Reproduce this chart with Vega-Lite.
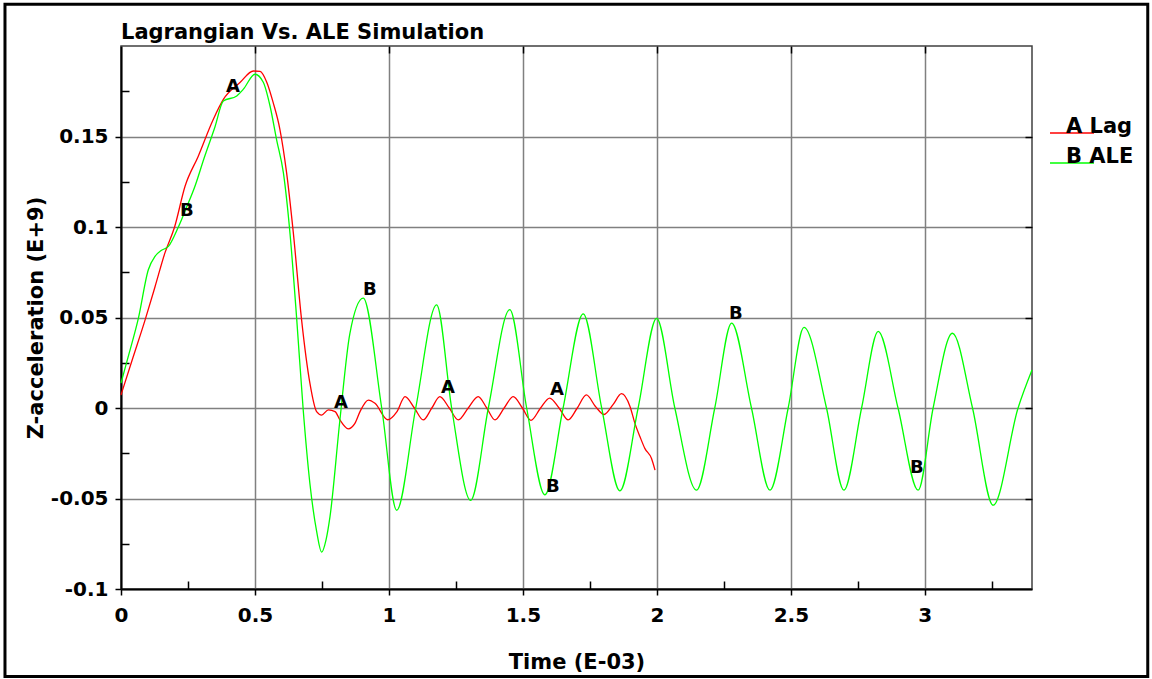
{
  "$schema": "https://vega.github.io/schema/vega-lite/v6.json",
  "width": 911,
  "height": 543,
  "autosize": {"type": "none"},
  "padding": {"left": 121, "top": 46, "right": 120, "bottom": 90},
  "background": "white",
  "config": {
    "font": "DejaVu Sans",
    "view": {"stroke": "#404040", "strokeWidth": 1.5},
    "axis": {
      "domainColor": "black",
      "domainWidth": 2,
      "tickColor": "black",
      "tickWidth": 1.5,
      "gridColor": "#808080",
      "gridWidth": 1.5,
      "labelFont": "DejaVu Sans",
      "labelFontSize": 20,
      "labelFontWeight": "bold",
      "labelColor": "black",
      "labelOverlap": false,
      "labelBound": false,
      "labelFlush": false,
      "titleFont": "DejaVu Sans",
      "titleFontSize": 21,
      "titleFontWeight": "bold",
      "titleColor": "black"
    }
  },
  "title": {
    "text": "Lagrangian Vs. ALE Simulation",
    "anchor": "start",
    "frame": "group",
    "font": "DejaVu Sans",
    "fontSize": 21,
    "fontWeight": "bold",
    "color": "black",
    "baseline": "alphabetic",
    "offset": -57
  },
  "datasets": {
    "curves": [
      {"series": "A Lag", "t": 0, "v": 0.0072},
      {"series": "A Lag", "t": 0.045, "v": 0.028},
      {"series": "A Lag", "t": 0.09, "v": 0.0487},
      {"series": "A Lag", "t": 0.127, "v": 0.067},
      {"series": "A Lag", "t": 0.164, "v": 0.0857},
      {"series": "A Lag", "t": 0.2, "v": 0.1},
      {"series": "A Lag", "t": 0.239, "v": 0.1225},
      {"series": "A Lag", "t": 0.288, "v": 0.139},
      {"series": "A Lag", "t": 0.343, "v": 0.159},
      {"series": "A Lag", "t": 0.382, "v": 0.1705},
      {"series": "A Lag", "t": 0.444, "v": 0.1798},
      {"series": "A Lag", "t": 0.494, "v": 0.1862},
      {"series": "A Lag", "t": 0.519, "v": 0.186},
      {"series": "A Lag", "t": 0.544, "v": 0.18},
      {"series": "A Lag", "t": 0.568, "v": 0.1687},
      {"series": "A Lag", "t": 0.593, "v": 0.154},
      {"series": "A Lag", "t": 0.618, "v": 0.13},
      {"series": "A Lag", "t": 0.643, "v": 0.097},
      {"series": "A Lag", "t": 0.674, "v": 0.0487},
      {"series": "A Lag", "t": 0.705, "v": 0.0137},
      {"series": "A Lag", "t": 0.73, "v": -0.002},
      {"series": "A Lag", "t": 0.749, "v": -0.0039},
      {"series": "A Lag", "t": 0.774, "v": -0.001},
      {"series": "A Lag", "t": 0.799, "v": -0.002},
      {"series": "A Lag", "t": 0.817, "v": -0.0066},
      {"series": "A Lag", "t": 0.848, "v": -0.0115},
      {"series": "A Lag", "t": 0.873, "v": -0.0085},
      {"series": "A Lag", "t": 0.892, "v": -0.002},
      {"series": "A Lag", "t": 0.923, "v": 0.0044},
      {"series": "A Lag", "t": 0.948, "v": 0.0026},
      {"series": "A Lag", "t": 0.995, "v": -0.0065},
      {"series": "A Lag", "t": 1.03, "v": -0.002},
      {"series": "A Lag", "t": 1.06, "v": 0.0063},
      {"series": "A Lag", "t": 1.095, "v": 0.0},
      {"series": "A Lag", "t": 1.128, "v": -0.0066},
      {"series": "A Lag", "t": 1.16, "v": 0.0},
      {"series": "A Lag", "t": 1.19, "v": 0.0063},
      {"series": "A Lag", "t": 1.225, "v": 0.0},
      {"series": "A Lag", "t": 1.259, "v": -0.0066},
      {"series": "A Lag", "t": 1.296, "v": 0.0},
      {"series": "A Lag", "t": 1.333, "v": 0.0063},
      {"series": "A Lag", "t": 1.365, "v": 0.0},
      {"series": "A Lag", "t": 1.396, "v": -0.0066},
      {"series": "A Lag", "t": 1.43, "v": 0.0},
      {"series": "A Lag", "t": 1.464, "v": 0.0063},
      {"series": "A Lag", "t": 1.498, "v": 0.0},
      {"series": "A Lag", "t": 1.53, "v": -0.0068},
      {"series": "A Lag", "t": 1.566, "v": 0.0},
      {"series": "A Lag", "t": 1.6, "v": 0.0055},
      {"series": "A Lag", "t": 1.635, "v": 0.0},
      {"series": "A Lag", "t": 1.669, "v": -0.0066},
      {"series": "A Lag", "t": 1.703, "v": 0.0},
      {"series": "A Lag", "t": 1.737, "v": 0.0072},
      {"series": "A Lag", "t": 1.77, "v": 0.001},
      {"series": "A Lag", "t": 1.803, "v": -0.0036},
      {"series": "A Lag", "t": 1.837, "v": 0.002},
      {"series": "A Lag", "t": 1.868, "v": 0.0079},
      {"series": "A Lag", "t": 1.9, "v": 0.0007},
      {"series": "A Lag", "t": 1.918, "v": -0.0085},
      {"series": "A Lag", "t": 1.937, "v": -0.0159},
      {"series": "A Lag", "t": 1.955, "v": -0.0223},
      {"series": "A Lag", "t": 1.98, "v": -0.0279},
      {"series": "A Lag", "t": 1.993, "v": -0.0343},
      {"series": "B ALE", "t": 0, "v": 0.0137},
      {"series": "B ALE", "t": 0.03, "v": 0.03},
      {"series": "B ALE", "t": 0.065, "v": 0.0497},
      {"series": "B ALE", "t": 0.102, "v": 0.0764},
      {"series": "B ALE", "t": 0.127, "v": 0.0838},
      {"series": "B ALE", "t": 0.15, "v": 0.087},
      {"series": "B ALE", "t": 0.177, "v": 0.0893},
      {"series": "B ALE", "t": 0.214, "v": 0.1},
      {"series": "B ALE", "t": 0.245, "v": 0.111},
      {"series": "B ALE", "t": 0.276, "v": 0.1225},
      {"series": "B ALE", "t": 0.31, "v": 0.138},
      {"series": "B ALE", "t": 0.35, "v": 0.155},
      {"series": "B ALE", "t": 0.382, "v": 0.1696},
      {"series": "B ALE", "t": 0.432, "v": 0.1724},
      {"series": "B ALE", "t": 0.456, "v": 0.176},
      {"series": "B ALE", "t": 0.5, "v": 0.1844},
      {"series": "B ALE", "t": 0.531, "v": 0.18},
      {"series": "B ALE", "t": 0.556, "v": 0.167},
      {"series": "B ALE", "t": 0.581, "v": 0.148},
      {"series": "B ALE", "t": 0.606, "v": 0.13},
      {"series": "B ALE", "t": 0.631, "v": 0.096},
      {"series": "B ALE", "t": 0.656, "v": 0.0487},
      {"series": "B ALE", "t": 0.68, "v": -0.001},
      {"series": "B ALE", "t": 0.705, "v": -0.0417},
      {"series": "B ALE", "t": 0.73, "v": -0.068},
      {"series": "B ALE", "t": 0.749, "v": -0.0796},
      {"series": "B ALE", "t": 0.765, "v": -0.073},
      {"series": "B ALE", "t": 0.78, "v": -0.06},
      {"series": "B ALE", "t": 0.817, "v": -0.0066},
      {"series": "B ALE", "t": 0.854, "v": 0.041},
      {"series": "B ALE", "t": 0.904, "v": 0.0607},
      {"series": "B ALE", "t": 0.973, "v": 0.0},
      {"series": "B ALE", "t": 1.029, "v": -0.0565},
      {"series": "B ALE", "t": 1.1, "v": 0.0},
      {"series": "B ALE", "t": 1.178, "v": 0.057},
      {"series": "B ALE", "t": 1.234, "v": 0.0},
      {"series": "B ALE", "t": 1.305, "v": -0.051},
      {"series": "B ALE", "t": 1.371, "v": 0.0},
      {"series": "B ALE", "t": 1.451, "v": 0.0543},
      {"series": "B ALE", "t": 1.514, "v": 0.0},
      {"series": "B ALE", "t": 1.582, "v": -0.048},
      {"series": "B ALE", "t": 1.65, "v": 0.0},
      {"series": "B ALE", "t": 1.725, "v": 0.052},
      {"series": "B ALE", "t": 1.794, "v": 0.0},
      {"series": "B ALE", "t": 1.862, "v": -0.0458},
      {"series": "B ALE", "t": 1.93, "v": 0.0},
      {"series": "B ALE", "t": 1.999, "v": 0.0495},
      {"series": "B ALE", "t": 2.067, "v": 0.0},
      {"series": "B ALE", "t": 2.148, "v": -0.0454},
      {"series": "B ALE", "t": 2.216, "v": 0.0},
      {"series": "B ALE", "t": 2.279, "v": 0.0469},
      {"series": "B ALE", "t": 2.353, "v": 0.0},
      {"series": "B ALE", "t": 2.422, "v": -0.0454},
      {"series": "B ALE", "t": 2.49, "v": 0.0},
      {"series": "B ALE", "t": 2.549, "v": 0.0445},
      {"series": "B ALE", "t": 2.633, "v": 0.0},
      {"series": "B ALE", "t": 2.698, "v": -0.0454},
      {"series": "B ALE", "t": 2.764, "v": 0.0},
      {"series": "B ALE", "t": 2.826, "v": 0.0423},
      {"series": "B ALE", "t": 2.9, "v": 0.0},
      {"series": "B ALE", "t": 2.975, "v": -0.0454},
      {"series": "B ALE", "t": 3.031, "v": 0.0},
      {"series": "B ALE", "t": 3.103, "v": 0.0413},
      {"series": "B ALE", "t": 3.178, "v": 0.0},
      {"series": "B ALE", "t": 3.255, "v": -0.0537},
      {"series": "B ALE", "t": 3.348, "v": 0.0},
      {"series": "B ALE", "t": 3.4, "v": 0.021}
    ],
    "marks": [
      {"letter": "A", "t": 0.418, "v": 0.1772},
      {"letter": "B", "t": 0.246, "v": 0.109},
      {"letter": "B", "t": 0.929, "v": 0.0653},
      {"letter": "A", "t": 0.821, "v": 0.0028},
      {"letter": "A", "t": 1.22, "v": 0.0111},
      {"letter": "A", "t": 1.627, "v": 0.01},
      {"letter": "B", "t": 1.612, "v": -0.0437},
      {"letter": "B", "t": 2.295, "v": 0.052},
      {"letter": "B", "t": 2.97, "v": -0.0332}
    ]
  },
  "layer": [
    {
      "data": {"name": "curves"},
      "mark": {"type": "line", "interpolate": "monotone", "strokeWidth": 1.3},
      "encoding": {
        "x": {
          "field": "t",
          "type": "quantitative",
          "scale": {"domain": [0, 3.4], "nice": false, "zero": false},
          "axis": {
            "orient": "bottom",
            "title": "Time (E-03)",
            "titlePadding": 26,
            "values": [0, 0.25, 0.5, 0.75, 1, 1.25, 1.5, 1.75, 2, 2.25, 2.5, 2.75, 3, 3.25],
            "labelExpr": "abs(datum.value*2-round(datum.value*2))>0.01 ? '' : toString(datum.value)",
            "labelPadding": 10,
            "tickSize": {"condition": {"test": "abs(datum.value*2-round(datum.value*2))>0.01", "value": -8}, "value": 6},
            "gridOpacity": {"condition": {"test": "abs(datum.value*2-round(datum.value*2))>0.01", "value": 0}, "value": 1}
          }
        },
        "y": {
          "field": "v",
          "type": "quantitative",
          "scale": {"domain": [-0.1, 0.2], "nice": false, "zero": false},
          "axis": {
            "orient": "left",
            "title": "Z-acceleration (E+9)",
            "titlePadding": 4,
            "values": [-0.1, -0.075, -0.05, -0.025, 0, 0.025, 0.05, 0.075, 0.1, 0.125, 0.15, 0.175],
            "labelExpr": "abs(datum.value*20-round(datum.value*20))>0.01 ? '' : toString(datum.value)",
            "labelPadding": 7,
            "tickSize": {"condition": {"test": "abs(datum.value*20-round(datum.value*20))>0.01", "value": -8}, "value": 6},
            "gridOpacity": {"condition": {"test": "abs(datum.value*20-round(datum.value*20))>0.01", "value": 0}, "value": 1}
          }
        },
        "color": {
          "field": "series",
          "type": "nominal",
          "scale": {"domain": ["A Lag", "B ALE"], "range": ["#ff0000", "#00ff00"]},
          "legend": {
            "title": null,
            "orient": "none",
            "legendX": 928,
            "legendY": 64,
            "symbolType": "stroke",
            "symbolSize": 1936,
            "symbolStrokeWidth": 1.5,
            "labelOffset": -29,
            "labelBaseline": "alphabetic",
            "labelFont": "DejaVu Sans",
            "labelFontSize": 21,
            "labelFontWeight": "bold",
            "labelColor": "black",
            "rowPadding": 3
          }
        }
      }
    },
    {
      "data": {"name": "marks"},
      "mark": {"type": "text", "font": "DejaVu Sans", "fontSize": 18, "fontWeight": "bold", "color": "black", "baseline": "middle", "align": "center"},
      "encoding": {
        "x": {
          "field": "t",
          "type": "quantitative",
          "axis": {"orient": "top", "title": null, "labels": false, "domain": false, "grid": false, "tickSize": -7, "minExtent": 0, "maxExtent": 0, "values": [0.5, 1, 1.5, 2, 2.5, 3]}
        },
        "y": {
          "field": "v",
          "type": "quantitative",
          "axis": {"orient": "right", "title": null, "labels": false, "domain": false, "grid": false, "tickSize": -7, "minExtent": 0, "maxExtent": 0, "values": [-0.05, 0, 0.05, 0.1, 0.15]}
        },
        "text": {"field": "letter"}
      }
    },
    {
      "data": {"values": [{}]},
      "mark": {"type": "rect", "fill": "transparent", "stroke": "black", "strokeWidth": 3, "clip": false},
      "encoding": {
        "x": {"datum": -0.433, "type": "quantitative", "axis": null},
        "x2": {"datum": 3.832},
        "y": {"datum": 0.2231, "type": "quantitative", "axis": null},
        "y2": {"datum": -0.1484}
      }
    }
  ],
  "resolve": {"axis": {"x": "independent", "y": "independent"}}
}
